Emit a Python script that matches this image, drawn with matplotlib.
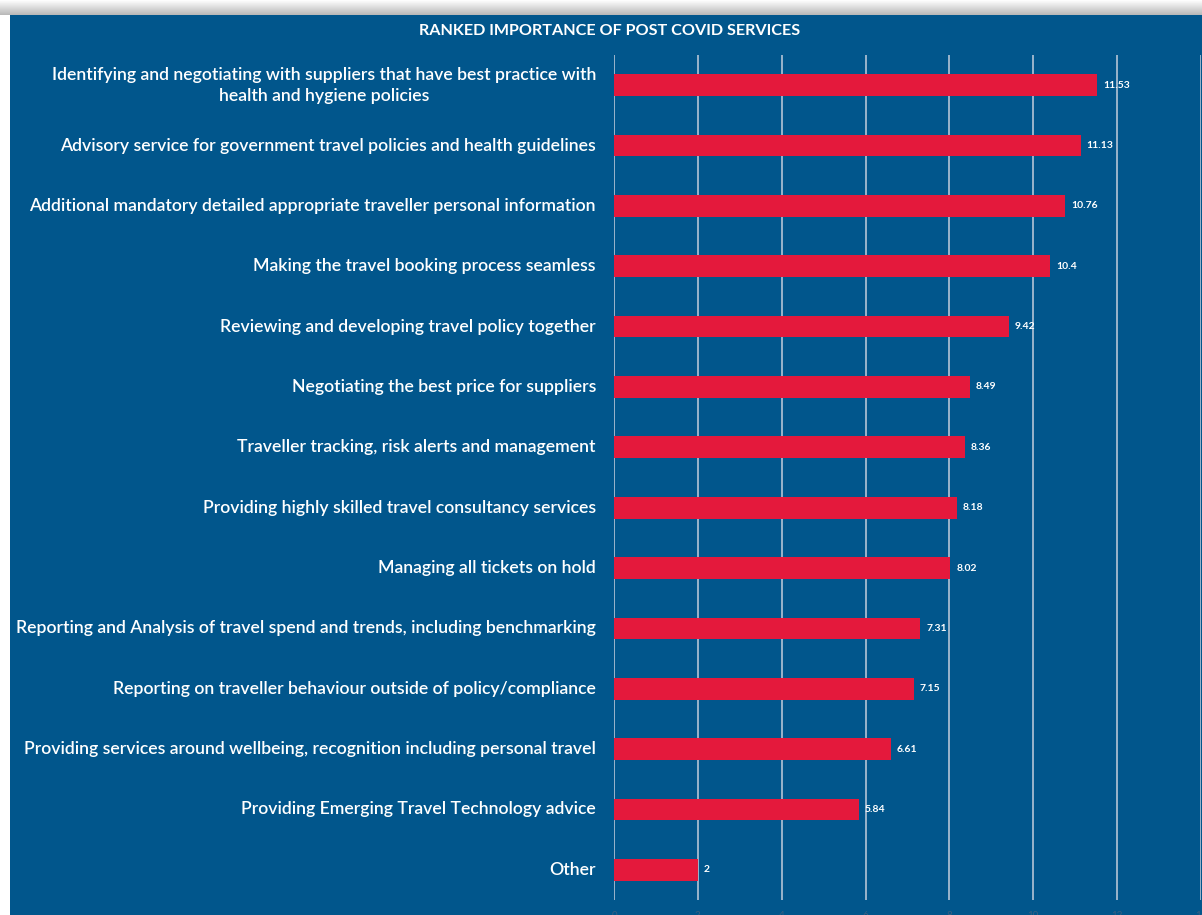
import numpy as np
import matplotlib.pyplot as plt
from matplotlib.patches import Rectangle

servicios = [
    "Identifying and negotiating with suppliers that have best practice with\nhealth and hygiene policies",
    "Advisory service for government travel policies and health guidelines",
    "Additional mandatory detailed appropriate traveller personal information",
    "Making the travel booking process seamless",
    "Reviewing and developing travel policy together",
    "Negotiating the best price for suppliers",
    "Traveller tracking, risk alerts and management",
    "Providing highly skilled travel consultancy services",
    "Managing all tickets on hold",
    "Reporting and Analysis of travel spend and trends, including benchmarking",
    "Reporting on traveller behaviour outside of policy/compliance",
    "Providing services around wellbeing, recognition including personal travel",
    "Providing Emerging Travel Technology advice",
    "Other",
]
puntajes = [11.53, 11.13, 10.76, 10.4, 9.42, 8.49, 8.36, 8.18, 8.02, 7.31, 7.15, 6.61, 5.84, 2]
etiquetas = ["11.53", "11.13", "10.76", "10.4", "9.42", "8.49", "8.36", "8.18",
             "8.02", "7.31", "7.15", "6.61", "5.84", "2"]
marcas = [0, 2, 4, 6, 8, 10, 12, 14]

azul = "#01568C"
rojo = "#E4193C"
rejilla = "#A7BBD0"

plt.rcParams["font.family"] = ["Lato", "DejaVu Sans"]

W, H = 1202, 915
fig = plt.figure(figsize=(W / 100, H / 100), dpi=100, facecolor="white")

# panel azul de fondo
fig.patches.append(Rectangle((10 / W, 0), 1, (H - 15) / H, transform=fig.transFigure,
                             facecolor=azul, edgecolor="none", zorder=-5))

# sombra gris arriba
sombra = fig.add_axes([0, (H - 15) / H, 1, 15 / H])
grad = np.linspace(1.0, 0.72, 50).reshape(-1, 1)
sombra.imshow(grad, aspect="auto", cmap="gray", vmin=0, vmax=1, extent=[0, 1, 0, 1])
sombra.axis("off")

ax = fig.add_axes([614 / W, 15 / H, (1201 - 614) / W, 845 / H])
ax.set_zorder(2)
ax.patch.set_alpha(0)

y = np.arange(len(servicios))
ax.barh(y, puntajes, height=0.36, color=rojo, zorder=3)
for yi, v, t in zip(y, puntajes, etiquetas):
    ax.text(v + 0.14, yi, t, color="white", fontsize=7.5, va="center", ha="left",
            fontweight="bold", zorder=4)

ax.set_xlim(0, 14)
ax.set_ylim(len(servicios) - 0.5, -0.5)
ax.set_xticks(marcas)
ax.set_xticklabels([str(m) for m in marcas], color="#3C5F80", fontsize=7)
ax.tick_params(axis="x", length=0, pad=8)
ax.set_yticks(y)
ax.set_yticklabels([])
ax.tick_params(axis="y", length=0)
for s in ax.spines.values():
    s.set_visible(False)
ax.grid(axis="x", color=rejilla, linewidth=1.3, zorder=1)

for yi, nombre in zip(y, servicios):
    ax.text(-0.43, yi, nombre, color="white", fontsize=12.7, ha="right", va="center",
            multialignment="center", fontweight="semibold", linespacing=1.4,
            clip_on=False)

fig.text(610 / W, 1 - 31 / H, "RANKED IMPORTANCE OF POST COVID SERVICES", color="white",
         fontsize=11.6, fontweight="bold", ha="center", va="center")

fig.savefig("out.png", dpi=100, facecolor="white")
